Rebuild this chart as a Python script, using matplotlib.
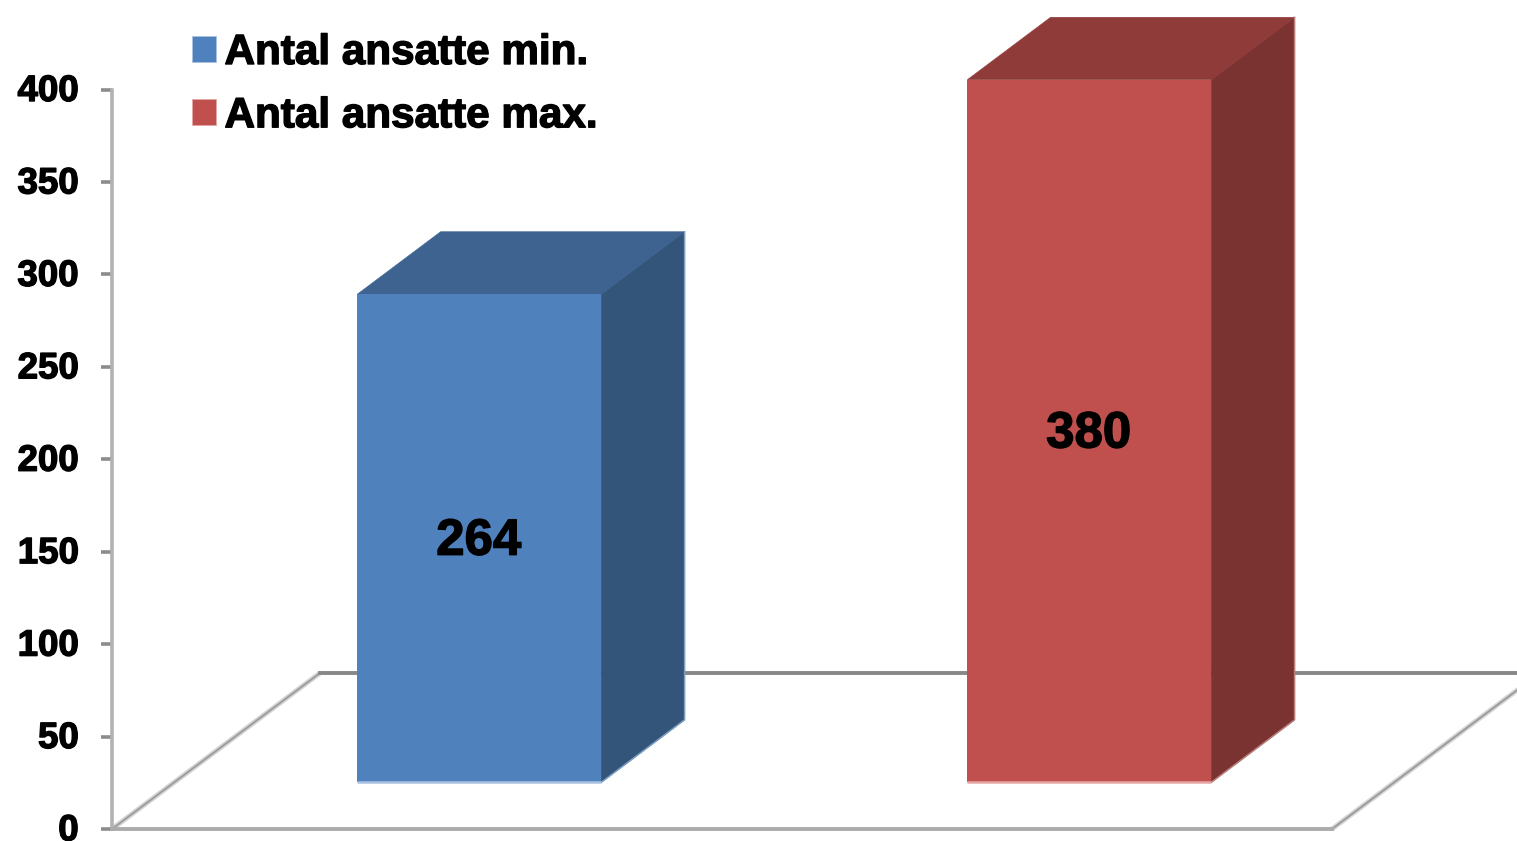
import matplotlib
matplotlib.use("Agg")
import matplotlib.pyplot as plt
import matplotlib.patheffects as pe
from matplotlib.patches import Polygon, Patch
from matplotlib.transforms import ScaledTranslation

series_names = ["Antal ansatte min.", "Antal ansatte max."]
values = [264, 380]
y_ticks = [0, 50, 100, 150, 200, 250, 300, 350, 400]
front_colors = ["#4f81bd", "#c0504d"]
side_colors = ["#325579", "#7b3331"]
top_colors = ["#3e6391", "#8e3b39"]
base_colors = ["#a9c2e2", "#e6a6a4"]
side_edge_colors = ["#7f9dc2", "#b5807e"]

W, H = 1517, 841
plt.rcParams["font.family"] = ["Liberation Sans", "DejaVu Sans"]
fig = plt.figure(figsize=(W / 100, H / 100), dpi=100, facecolor="white")
ax = fig.add_axes([112 / W, (H - 829) / H, 1220 / W, 739.5 / H])
ax.set_xlim(0, 2)
ax.set_ylim(0, 400)
ax.patch.set_alpha(0)

# oblique depth axis: one unit of depth shifts by these data amounts
DX = 208 / 610
DY = 156 / (739.5 / 400)


def proj(x, y, z):
    return (x + z * DX, y + z * DY)


bold = [pe.withStroke(linewidth=1.0, foreground="black")]

# floor
ax.plot(*zip(proj(0, 0, 0), proj(0, 0, 1)), color="#d4d4d4", lw=3.6, clip_on=False, zorder=1, solid_capstyle="butt")
ax.plot(*zip(proj(2, 0, 0), proj(2, 0, 1)), color="#d4d4d4", lw=3.6, clip_on=False, zorder=1, solid_capstyle="butt")
ax.plot(*zip(proj(0, 0, 0), proj(0, 0, 1)), color="#9a9a9a", lw=1.3, clip_on=False, zorder=1.1)
ax.plot(*zip(proj(2, 0, 0), proj(2, 0, 1)), color="#9a9a9a", lw=1.3, clip_on=False, zorder=1.1)
ax.plot(*zip(proj(0, 0, 1), proj(2, 0, 1)), color="#888888", lw=2.8, clip_on=False, zorder=1.2)

# bars
z0, z1 = 0.3, 0.7
bar_w = 0.4
for i, v in enumerate(values):
    c = i + 0.5
    xl, xr = c - bar_w / 2, c + bar_w / 2
    ax.add_patch(Polygon([proj(xr, 0, z0), proj(xr, 0, z1), proj(xr, v, z1), proj(xr, v, z0)],
                         facecolor=side_colors[i], edgecolor=side_colors[i], lw=0.6, clip_on=False, zorder=2))
    ax.add_patch(Polygon([proj(xl, v, z0), proj(xr, v, z0), proj(xr, v, z1), proj(xl, v, z1)],
                         facecolor=top_colors[i], edgecolor=top_colors[i], lw=0.4, clip_on=False, zorder=2.2))
    ax.add_patch(Polygon([proj(xl, 0, z0), proj(xr, 0, z0), proj(xr, v, z0), proj(xl, v, z0)],
                         facecolor=front_colors[i], edgecolor="none", clip_on=False, zorder=3))
    ax.plot(*zip(proj(xl, 0, z0), proj(xr, 0, z0)), color=base_colors[i], lw=1.8, clip_on=False, zorder=3.1,
            solid_capstyle="butt")
    ax.plot(*zip(proj(xr, 0, z0), proj(xr, 0, z1), proj(xr, v, z1)), color=side_edge_colors[i], lw=1.1,
            clip_on=False, zorder=2.5)
    ax.annotate(str(v), xy=proj(c, v / 2, z0), xytext=(-0.5, -2.2), textcoords="offset points",
                ha="center", va="center", fontsize=36.7, fontweight="bold",
                color="black", zorder=5, path_effects=bold)

# axes
for s in ("top", "right"):
    ax.spines[s].set_visible(False)
ax.spines["left"].set_color("#b2b2b2")
ax.spines["left"].set_linewidth(2.6)
ax.spines["bottom"].set_color("#ababab")
ax.spines["bottom"].set_linewidth(2.8)
ax.set_xticks([])
ax.set_yticks(y_ticks)
ax.tick_params(axis="y", length=8, width=2.6, color="#8c8c8c", pad=16)
shift = ScaledTranslation(0, 2 / 100, fig.dpi_scale_trans)
for t in ax.get_yticklabels():
    t.set_fontsize(26.4)
    t.set_fontweight("bold")
    t.set_path_effects(bold)
    t.set_transform(t.get_transform() + shift)

# legend
handles = [Patch(facecolor=front_colors[i], edgecolor=base_colors[i], linewidth=0.6) for i in range(2)]
leg = fig.legend(handles, series_names, loc="upper left", bbox_to_anchor=(192 / W, 1 - 33 / H),
                 frameon=False, borderpad=0, borderaxespad=0, fontsize=30.4,
                 handlelength=24 / 42.2, handleheight=24 / 42.2, handletextpad=8.5 / 42.2,
                 labelspacing=0.55)
for t in leg.get_texts():
    t.set_fontweight("bold")
    t.set_path_effects(bold)

fig.savefig("out.png", dpi=100, facecolor="white")
